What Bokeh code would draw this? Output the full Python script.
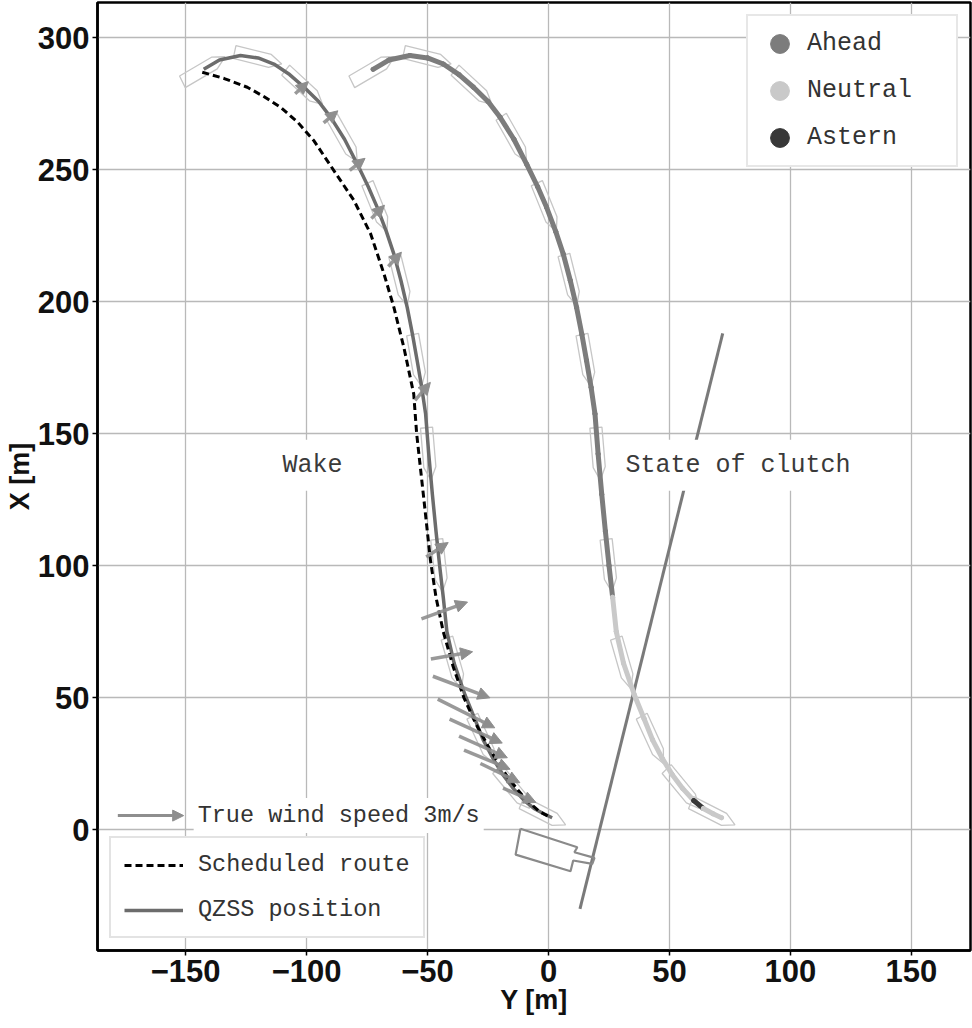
import math
from bokeh.plotting import figure
from bokeh.models import (ColumnDataSource, Label, Legend, LegendItem, Arrow, NormalHead,
                          FixedTicker, Range1d)
from bokeh.embed import file_html
from bokeh.resources import INLINE

# ---------------- data (metres; Y = east, X = north) ----------------
X_TICKS = [-150, -100, -50, 0, 50, 100, 150]
Y_TICKS = [0, 50, 100, 150, 200, 250, 300]

# scheduled route
ROUTE_Y = [-143.1, -134, -124.5, -117.5, -110.7, -103.5, -97, -88.7, -80.4, -73.5, -68,
           -63.9, -59.8, -55.7, -54.5, -51.5, -48.8, -46.5, -43.5, -39.5, -35, -30, -24,
           -17, -10, -4, 0]
ROUTE_X = [286.9, 284.5, 281.2, 277.6, 273.6, 267.8, 261, 249.6, 238.3, 225.6, 210.5,
           197.8, 182.7, 165, 150, 125, 102, 88, 75, 62, 50, 40, 30, 20, 12, 7, 5]

# QZSS measured position
TRACK_Y = [-142.5, -136, -127.3, -120, -113.5, -107, -101, -95, -90, -84.3, -79, -74.5,
           -70.8, -67, -63.9, -61, -58.4, -56.2, -54.3, -52.4, -50.8, -49.5, -48, -46.5,
           -45, -43.5, -42, -39, -34.5, -30.5, -27, -23, -19, -14.5, -10, -6, -2, 1.5]
TRACK_X = [288, 291.5, 293.2, 292.3, 290, 286, 281.2, 275.8, 269.8, 261.5, 252, 243.5,
           235.7, 226.5, 218, 208, 197.8, 187.5, 177.7, 167.5, 157.5, 142.3, 127, 113,
           100, 88, 75, 63, 51, 42, 34, 27, 21, 15.5, 11, 8, 6, 4.5]
CLUTCH = (["Ahead"] * 25 + ["Neutral"] * 9 + ["Astern"] + ["Neutral"] * 3)
CLUTCH_PANEL_SHIFT_Y = 70   # the "State of clutch" copy of the track is drawn shifted east

# true wind along the track (arrow centre, components in m/s)
WIND_Y = [-102, -90, -79, -70.5, -63.5, -52, -46, -43, -40, -36, -34, -30, -27, -25.4, -20, -12]
WIND_X = [281, 270, 252, 234, 216, 166, 106, 83, 66, 54, 44, 37.3, 31.3, 26.5, 21.4, 13]
WIND_U = [0.6, 0.65, 0.7, 0.6, 0.6, 0.7, 1.0, 2.1, 1.9, 2.6, 2.6, 2.4, 2.2, 2.1, 1.8, 1.5]
WIND_V = [0.5, 0.5, 0.5, 0.55, 0.6, 0.75, 0.6, 0.7, 0.3, -0.9, -1.2, -1.0, -0.9, -0.8, -0.8, -0.6]
WIND_SCALE = 9.07          # metres of arrow per m/s
KEY_SPEED = 3              # m/s shown in the key

# quay line and pontoon outline
QUAY_Y = [13, 72]
QUAY_X = [-30, 188]
PONTOON_Y = [-11.6, 11.9, 10.7, 19.0, 18.1, 10.2, 9.1, -13.6, -11.6]
PONTOON_X = [0.3, -6.7, -8.6, -10.7, -13.0, -11.7, -15.8, -9.5, 0.3]

# ship outline drawn at these track samples
SHIP_IDX = [0, 3, 6, 9, 12, 15, 18, 21, 24, 27, 30, 33, 36]
SHIP_LENGTH = 20
SHIP_BEAM = 5

CLUTCH_COLORS = {"Ahead": "#7c7c7c", "Neutral": "#c9c9c9", "Astern": "#383838"}

# ---------------- figure ----------------
p = figure(width=972, height=1028, output_backend="svg", toolbar_location=None,
           x_range=Range1d(-186.4, 174.4), y_range=Range1d(-45.8, 313.3),
           min_border_left=97, min_border_right=2, min_border_top=2, min_border_bottom=78,
           background_fill_color="white", border_fill_color="white")

p.outline_line_color = "black"
p.outline_line_width = 2.5

for ax, ticks in ((p.xaxis[0], X_TICKS), (p.yaxis[0], Y_TICKS)):
    ax.ticker = FixedTicker(ticks=ticks)
    ax.minor_tick_line_color = None
    ax.major_tick_in = 0
    ax.major_tick_out = 5
    ax.major_tick_line_color = "black"
    ax.major_tick_line_width = 1.5
    ax.axis_line_color = "black"
    ax.axis_line_width = 2.5
    ax.major_label_text_font = "Liberation Sans"
    ax.major_label_text_font_style = "bold"
    ax.major_label_text_font_size = "31px"
    ax.major_label_text_color = "#111111"
    ax.axis_label_text_font = "Liberation Sans"
    ax.axis_label_text_font_style = "bold"
    ax.axis_label_text_font_size = "27px"
    ax.axis_label_text_color = "#111111"

p.xaxis.axis_label = "Y [m]"
p.yaxis.axis_label = "X [m]"
p.xaxis.major_label_standoff = 4
p.xaxis.axis_label_standoff = 0
p.yaxis.major_label_standoff = 3
p.yaxis.axis_label_standoff = 0

p.xgrid.ticker = FixedTicker(ticks=X_TICKS)
p.ygrid.ticker = FixedTicker(ticks=Y_TICKS)
for g in (p.xgrid[0], p.ygrid[0]):
    g.grid_line_color = "#b9b9b9"
    g.grid_line_width = 1.3

# ship outlines along both copies of the track
def hull(i, shift):
    j0, j1 = max(i - 1, 0), min(i + 1, len(TRACK_Y) - 1)
    dy, dx = TRACK_Y[j1] - TRACK_Y[j0], TRACK_X[j1] - TRACK_X[j0]
    n = math.hypot(dy, dx)
    ey, ex = dy / n, dx / n
    py, px = -ex, ey
    L, B = SHIP_LENGTH, SHIP_BEAM
    local = [(-L / 2, -B / 2), (L / 2 - B, -B / 2), (L / 2, 0), (L / 2 - B, B / 2), (-L / 2, B / 2)]
    ys = [TRACK_Y[i] + shift + a * ey + b * py for a, b in local]
    xs = [TRACK_X[i] + a * ex + b * px for a, b in local]
    return ys, xs

hy, hx = [], []
for shift in (0, CLUTCH_PANEL_SHIFT_Y):
    for i in SHIP_IDX:
        ys, xs = hull(i, shift)
        hy.append(ys)
        hx.append(xs)
p.patches(hy, hx, fill_alpha=0, line_color="#c6c6c6", line_width=1.3)

# quay and pontoon
p.line(QUAY_Y, QUAY_X, line_color="#7a7a7a", line_width=3)
p.line(PONTOON_Y, PONTOON_X, line_color="#8a8a8a", line_width=2.2)

# clutch-state copy of the track
seg = ColumnDataSource(dict(
    y0=[y + CLUTCH_PANEL_SHIFT_Y for y in TRACK_Y[:-1]],
    x0=TRACK_X[:-1],
    y1=[y + CLUTCH_PANEL_SHIFT_Y for y in TRACK_Y[1:]],
    x1=TRACK_X[1:],
    c=[CLUTCH_COLORS[s] for s in CLUTCH[:-1]],
))
p.segment("y0", "x0", "y1", "x1", source=seg, line_color="c", line_width=5, line_cap="round")
state_renderers = {}
for state in ("Ahead", "Neutral", "Astern"):
    sy = [y + CLUTCH_PANEL_SHIFT_Y for y, s in zip(TRACK_Y, CLUTCH) if s == state]
    sx = [x for x, s in zip(TRACK_X, CLUTCH) if s == state]
    state_renderers[state] = p.scatter(sy, sx, size=4, marker="circle",
                                       fill_color=CLUTCH_COLORS[state],
                                       line_color=CLUTCH_COLORS[state])

# wake panel: measured track and scheduled route
r_track = p.line(TRACK_Y, TRACK_X, line_color="#6c6c6c", line_width=3.5, line_join="round")
r_route = p.line(ROUTE_Y, ROUTE_X, line_color="black", line_width=3, line_dash="7 4")

# wind arrows (pivot in the middle)
wsrc = ColumnDataSource(dict(
    xs=[y - 0.5 * u * WIND_SCALE for y, u in zip(WIND_Y, WIND_U)],
    ys=[x - 0.5 * v * WIND_SCALE for x, v in zip(WIND_X, WIND_V)],
    xe=[y + 0.5 * u * WIND_SCALE for y, u in zip(WIND_Y, WIND_U)],
    ye=[x + 0.5 * v * WIND_SCALE for x, v in zip(WIND_X, WIND_V)],
))
p.add_layout(Arrow(source=wsrc, x_start="xs", y_start="ys", x_end="xe", y_end="ye",
                   line_color="#8e8e8e", line_width=3.5, line_alpha=0.9,
                   end=NormalHead(size=12, fill_color="#8e8e8e", line_color="#8e8e8e")))

# wind key
KEY_Y, KEY_X = -178, 5.3
p.add_layout(Label(x=KEY_Y + KEY_SPEED * WIND_SCALE, y=KEY_X, x_offset=10,
                   text=f"True wind speed {KEY_SPEED}m/s",
                   text_font="Liberation Mono", text_font_size="23.5px",
                   text_color="#333333", text_baseline="middle", text_align="left",
                   background_fill_color="white", padding=4))
p.add_layout(Arrow(x_start=KEY_Y, y_start=KEY_X, x_end=KEY_Y + KEY_SPEED * WIND_SCALE, y_end=KEY_X,
                   line_color="#8e8e8e", line_width=3,
                   end=NormalHead(size=11, fill_color="#8e8e8e", line_color="#8e8e8e")))

# panel titles
for txt, xx in (("Wake", -97.5), ("State of clutch", 78.3)):
    p.add_layout(Label(x=xx, y=138, text=txt, text_align="center", text_baseline="middle",
                       text_font="Liberation Mono", text_font_size="25px",
                       text_color="#3a3a3a", background_fill_color="white", padding=11))

# legends
leg1 = Legend(items=[LegendItem(label="Scheduled route", renderers=[r_route]),
                     LegendItem(label="QZSS position", renderers=[r_track])],
              location="bottom_left", margin=12, padding=13, spacing=18,
              glyph_width=59, glyph_height=26, label_height=26, label_standoff=15,
              label_text_font="Liberation Mono", label_text_font_size="23.5px",
              label_text_color="#333333", border_line_color="#c8c8c8", border_line_width=2,
              background_fill_color="white", background_fill_alpha=1)
leg2 = Legend(items=[LegendItem(label=s, renderers=[state_renderers[s]])
                     for s in ("Ahead", "Neutral", "Astern")],
              location="top_right", margin=12, padding=4, spacing=0,
              glyph_width=55, glyph_height=47, label_standoff=-8, label_width=145,
              label_text_font="Liberation Mono", label_text_font_size="25px",
              label_text_color="#333333", border_line_color="#cfcfcf", border_line_width=2,
              background_fill_color="white", background_fill_alpha=1)
p.add_layout(leg1)
p.add_layout(leg2)

open("out.html", "w").write(file_html(p, INLINE))
